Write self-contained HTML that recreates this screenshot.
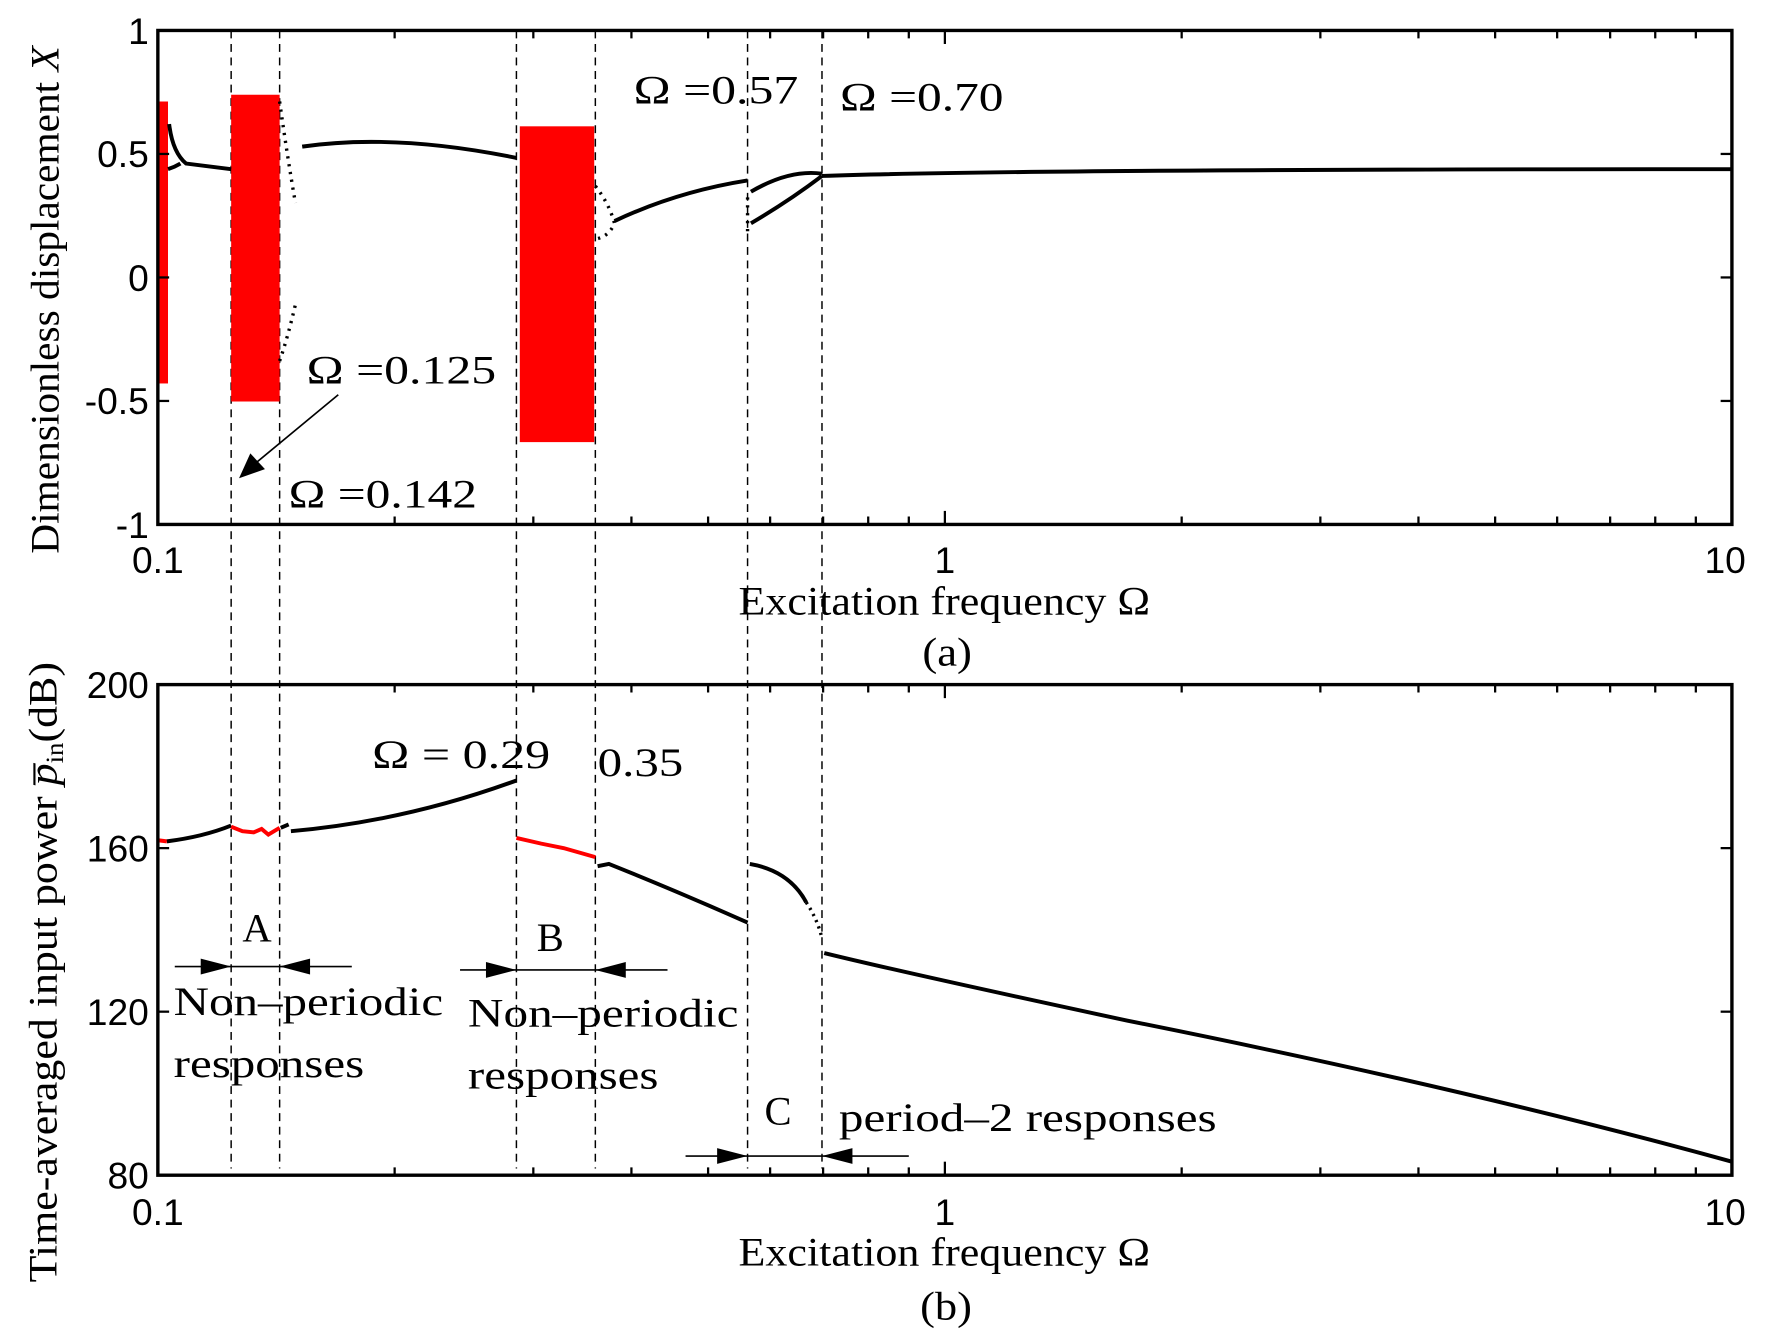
<!DOCTYPE html>
<html><head><meta charset="utf-8"><style>
html,body{margin:0;padding:0;background:#fff;}
svg{display:block;}
.t{font-family:"Liberation Sans",sans-serif;font-size:33px;fill:#000;}
.s{font-family:"Liberation Serif",serif;font-size:36px;fill:#000;}
</style></head><body>
<svg width="1768" height="1341" viewBox="0 0 1568 1189" preserveAspectRatio="none" xmlns="http://www.w3.org/2000/svg">
<rect width="1568" height="1189" fill="#fff"/>
<g stroke="#000" stroke-width="1.3" stroke-dasharray="7,5">
<line x1="205" y1="27" x2="205" y2="1036"/>
<line x1="248" y1="27" x2="248" y2="1036"/>
<line x1="458" y1="27" x2="458" y2="1036"/>
<line x1="528" y1="27" x2="528" y2="1036"/>
<line x1="663" y1="27" x2="663" y2="1036"/>
<line x1="729" y1="27" x2="729" y2="1036"/>
</g>
<g fill="#f00">
<rect x="140" y="90" width="9" height="250"/>
<rect x="205" y="84" width="43" height="272"/>
<rect x="461" y="112" width="66" height="280"/>
</g>
<g fill="none" stroke="#000" stroke-width="3.5">
<path d="M150 110 Q153 135 165 145 L205 150"/>
<path d="M149 150 Q155 148 160 145"/>
<path d="M268 130 Q350 118 458 140"/>
<path d="M545 196 Q600 170 663 160"/>
<path d="M666 170 Q700 150 729 154 M666 198 Q700 178 729 156"/>
<path d="M729 156 Q900 150 1536 150"/>
</g>
<g fill="none" stroke="#000" stroke-width="3" stroke-dasharray="2,5">
<path d="M248 90 Q255 140 262 180"/>
<path d="M248 320 Q255 300 262 270"/>
<path d="M528 165 Q540 180 545 198 Q540 210 528 212"/>
<path d="M663 175 L663 205"/>
</g>
<rect x="140" y="27" width="1396" height="438" fill="none" stroke="#000" stroke-width="3"/>
<g stroke="#000" stroke-width="2">
<line x1="140" y1="136.5" x2="150" y2="136.5"/><line x1="140" y1="246" x2="150" y2="246"/><line x1="140" y1="355.5" x2="150" y2="355.5"/>
<line x1="1536" y1="136.5" x2="1526" y2="136.5"/><line x1="1536" y1="246" x2="1526" y2="246"/><line x1="1536" y1="355.5" x2="1526" y2="355.5"/>
<line x1="838" y1="465" x2="838" y2="453"/><line x1="838" y1="27" x2="838" y2="39"/>
<path d="M350 465v-7M473 465v-7M560 465v-7M628 465v-7M683 465v-7M730 465v-7M770 465v-7M806 465v-7M1048 465v-7M1171 465v-7M1258 465v-7M1326 465v-7M1381 465v-7M1428 465v-7M1468 465v-7M1504 465v-7"/>
<path d="M350 27v7M473 27v7M560 27v7M628 27v7M683 27v7M730 27v7M770 27v7M806 27v7M1048 27v7M1171 27v7M1258 27v7M1326 27v7M1381 27v7M1428 27v7M1468 27v7M1504 27v7"/>
</g>
<g class="t" text-anchor="end">
<text x="132" y="39">1</text><text x="132" y="148">0.5</text><text x="132" y="258">0</text><text x="132" y="367">-0.5</text><text x="132" y="477">-1</text>
</g>
<g class="t" text-anchor="middle">
<text x="140" y="508">0.1</text><text x="838" y="508">1</text><text x="1530" y="508">10</text>
</g>
<text class="s" x="655" y="545" textLength="365" lengthAdjust="spacingAndGlyphs">Excitation frequency Ω</text>
<text class="s" x="818" y="590" textLength="44" lengthAdjust="spacingAndGlyphs">(a)</text>
<text class="s" transform="translate(52,266) rotate(-90)" x="-225" textLength="450" lengthAdjust="spacingAndGlyphs">Dimensionless displacement <tspan font-style="italic">X</tspan></text>
<text class="s" x="562" y="92" font-size="40" textLength="146" lengthAdjust="spacingAndGlyphs">Ω =0.57</text>
<text class="s" x="745" y="98" font-size="40" textLength="145" lengthAdjust="spacingAndGlyphs">Ω =0.70</text>
<text class="s" x="272" y="340" font-size="40" textLength="168" lengthAdjust="spacingAndGlyphs">Ω =0.125</text>
<text class="s" x="256" y="450" font-size="40" textLength="167" lengthAdjust="spacingAndGlyphs">Ω =0.142</text>
<line x1="300" y1="350" x2="225" y2="412" stroke="#000" stroke-width="1.5"/>
<polygon points="212,424 222,402 235,416" fill="#000"/>
<g fill="none" stroke-width="3.5">
<path d="M140 745 L148 746" stroke="#f00"/>
<path d="M148 746 Q180 742 205 732" stroke="#000"/>
<path d="M205 733 L215 737 L225 738 L232 735 L238 740 L248 734" stroke="#f00"/>
<path d="M249 734 L256 731 M258 737 Q360 728 458 692" stroke="#000"/>
<path d="M458 743 L480 748 L500 752 L528 760" stroke="#f00"/>
<path d="M530 768 L540 766 Q600 790 663 818" stroke="#000"/>
<path d="M665 766 Q700 772 715 800" stroke="#000"/>
<path d="M731 845 Q800 862 1000 905 Q1300 965 1536 1030" stroke="#000"/>
</g>
<path d="M715 800 Q725 815 729 832" fill="none" stroke="#000" stroke-width="3" stroke-dasharray="2,4"/>
<rect x="140" y="607" width="1396" height="435" fill="none" stroke="#000" stroke-width="3"/>
<g stroke="#000" stroke-width="2">
<line x1="140" y1="752" x2="150" y2="752"/><line x1="140" y1="897" x2="150" y2="897"/>
<line x1="1536" y1="752" x2="1526" y2="752"/><line x1="1536" y1="897" x2="1526" y2="897"/>
<line x1="838" y1="1042" x2="838" y2="1030"/><line x1="838" y1="607" x2="838" y2="619"/>
<path d="M350 1042v-7M473 1042v-7M560 1042v-7M628 1042v-7M683 1042v-7M730 1042v-7M770 1042v-7M806 1042v-7M1048 1042v-7M1171 1042v-7M1258 1042v-7M1326 1042v-7M1381 1042v-7M1428 1042v-7M1468 1042v-7M1504 1042v-7"/>
<path d="M350 607v7M473 607v7M560 607v7M628 607v7M683 607v7M730 607v7M770 607v7M806 607v7M1048 607v7M1171 607v7M1258 607v7M1326 607v7M1381 607v7M1428 607v7M1468 607v7M1504 607v7"/>
</g>
<g class="t" text-anchor="end">
<text x="132" y="619">200</text><text x="132" y="764">160</text><text x="132" y="909">120</text><text x="132" y="1054">80</text>
</g>
<g class="t" text-anchor="middle">
<text x="140" y="1086">0.1</text><text x="838" y="1086">1</text><text x="1530" y="1086">10</text>
</g>
<text class="s" x="655" y="1122" textLength="365" lengthAdjust="spacingAndGlyphs">Excitation frequency Ω</text>
<text class="s" x="816" y="1170" textLength="46" lengthAdjust="spacingAndGlyphs">(b)</text>
<text class="s" transform="translate(50,862) rotate(-90)" x="-275" textLength="550" lengthAdjust="spacingAndGlyphs">Time-averaged input power <tspan font-style="italic">p̅</tspan><tspan font-size="22" dy="6">in</tspan><tspan dy="-6">(dB)</tspan></text>
<text class="s" x="330" y="681" font-size="40" textLength="158" lengthAdjust="spacingAndGlyphs">Ω = 0.29</text>
<text class="s" x="530" y="688" font-size="40" textLength="76" lengthAdjust="spacingAndGlyphs">0.35</text>
<text class="s" x="215" y="835" font-size="40">A</text>
<text class="s" x="476" y="843" font-size="40">B</text>
<text class="s" x="678" y="997" font-size="40">C</text>
<text class="s" x="154" y="900" font-size="40" textLength="239" lengthAdjust="spacingAndGlyphs">Non–periodic</text>
<text class="s" x="154" y="955" font-size="40" textLength="169" lengthAdjust="spacingAndGlyphs">responses</text>
<text class="s" x="415" y="910" font-size="40" textLength="240" lengthAdjust="spacingAndGlyphs">Non–periodic</text>
<text class="s" x="415" y="965" font-size="40" textLength="169" lengthAdjust="spacingAndGlyphs">responses</text>
<text class="s" x="744" y="1003" font-size="40" textLength="335" lengthAdjust="spacingAndGlyphs">period–2 responses</text>
<g stroke="#000" stroke-width="1.5">
<line x1="155" y1="857" x2="312" y2="857"/>
<line x1="408" y1="860" x2="592" y2="860"/>
<line x1="608" y1="1025" x2="806" y2="1025"/>
</g>
<g fill="#000">
<polygon points="205,857 178,850 178,864"/><polygon points="248,857 275,850 275,864"/>
<polygon points="458,860 431,853 431,867"/><polygon points="528,860 555,853 555,867"/>
<polygon points="663,1025 636,1018 636,1032"/><polygon points="729,1025 756,1018 756,1032"/>
</g>
</svg>
</body></html>
